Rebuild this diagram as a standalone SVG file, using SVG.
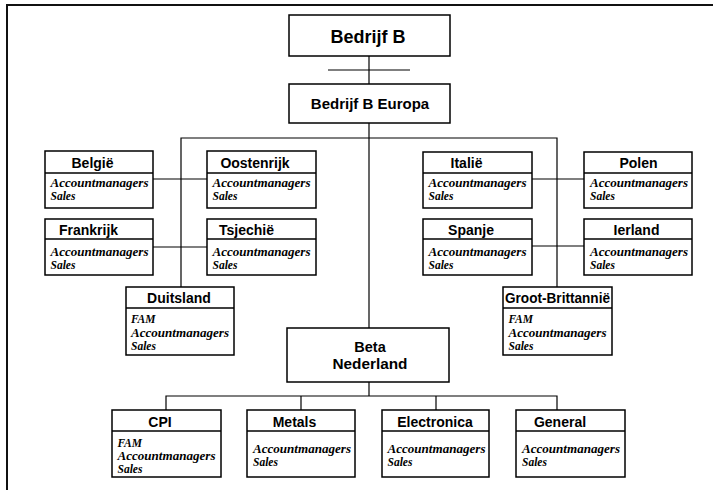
<svg xmlns="http://www.w3.org/2000/svg" width="713" height="490" viewBox="0 0 713 490">
  <style>
    .box { fill: #ffffff; stroke: #000000; stroke-width: 1.5; }
    .div { stroke: #000000; stroke-width: 1.5; }
    .wire { fill: none; stroke: #000000; stroke-width: 1.2; }
    .frame { fill: none; stroke: #111111; stroke-width: 2; }
    .head { font-family: "Liberation Sans", Arial, sans-serif; font-weight: bold; fill: #000000; text-anchor: middle; }
    .t { font-size: 14px; }
    .item { font-family: "Liberation Serif", "Times New Roman", serif; font-weight: bold; font-style: italic; font-size: 11.5px; fill: #000000; }
  </style>

  <!-- page frame (top and left edges) -->
  <path class="frame" d="M7,490 V5 H713"/>

  <!-- connectors -->
  <g id="connectors">
    <path class="wire" d="M369,56 V84"/>
    <path class="wire" d="M328,70 H410" stroke="#333333"/>
    <path class="wire" d="M369,123 V328"/>
    <path class="wire" d="M181,287 V138 H557 V287"/>
    <path class="wire" d="M153,179 H207"/>
    <path class="wire" d="M153,247 H207"/>
    <path class="wire" d="M532,179 H584"/>
    <path class="wire" d="M532,246 H584"/>
    <path class="wire" d="M369,382 V396"/>
    <path class="wire" d="M166,410 V396 H557 V410"/>
    <path class="wire" d="M301,396 V410"/>
    <path class="wire" d="M436,396 V410"/>
  </g>

  <!-- top level -->
  <g id="bedrijf-b">
    <rect class="box" x="289" y="15" width="161" height="41"/>
    <text class="head" x="368" y="43" font-size="18">Bedrijf B</text>
  </g>
  <g id="bedrijf-b-europa">
    <rect class="box" x="289" y="84" width="161" height="39"/>
    <text class="head" x="370" y="109" font-size="15">Bedrijf B Europa</text>
  </g>

  <!-- left countries -->
  <g id="belgie">
    <rect class="box" x="45" y="151" width="108" height="57"/>
    <line class="div" x1="45" y1="173" x2="153" y2="173"/>
    <text class="head t" x="92.5" y="168">België</text>
    <text class="item" x="50.5" y="187" textLength="98" lengthAdjust="spacingAndGlyphs">Accountmanagers</text>
    <text class="item" x="50.5" y="200">Sales</text>
  </g>
  <g id="oostenrijk">
    <rect class="box" x="207" y="151" width="109" height="57"/>
    <line class="div" x1="207" y1="173" x2="316" y2="173"/>
    <text class="head t" x="255" y="168">Oostenrijk</text>
    <text class="item" x="212.5" y="187" textLength="98" lengthAdjust="spacingAndGlyphs">Accountmanagers</text>
    <text class="item" x="212.5" y="200">Sales</text>
  </g>
  <g id="frankrijk">
    <rect class="box" x="45" y="219" width="108" height="56"/>
    <line class="div" x1="45" y1="239" x2="153" y2="239"/>
    <text class="head t" x="88.5" y="235">Frankrijk</text>
    <text class="item" x="50.5" y="256" textLength="98" lengthAdjust="spacingAndGlyphs">Accountmanagers</text>
    <text class="item" x="50.5" y="269">Sales</text>
  </g>
  <g id="tsjechie">
    <rect class="box" x="207" y="219" width="109" height="56"/>
    <line class="div" x1="207" y1="239" x2="316" y2="239"/>
    <text class="head t" x="246.5" y="235">Tsjechië</text>
    <text class="item" x="212.5" y="256" textLength="98" lengthAdjust="spacingAndGlyphs">Accountmanagers</text>
    <text class="item" x="212.5" y="269">Sales</text>
  </g>
  <g id="duitsland">
    <rect class="box" x="126" y="287" width="108" height="68"/>
    <line class="div" x1="126" y1="308" x2="234" y2="308"/>
    <text class="head t" x="179" y="303">Duitsland</text>
    <text class="item" x="131" y="323">FAM</text>
    <text class="item" x="131" y="336.5" textLength="98" lengthAdjust="spacingAndGlyphs">Accountmanagers</text>
    <text class="item" x="131" y="350">Sales</text>
  </g>

  <!-- right countries -->
  <g id="italie">
    <rect class="box" x="423" y="152" width="109" height="56"/>
    <line class="div" x1="423" y1="173" x2="532" y2="173"/>
    <text class="head t" x="466.5" y="168">Italië</text>
    <text class="item" x="428.5" y="187" textLength="98" lengthAdjust="spacingAndGlyphs">Accountmanagers</text>
    <text class="item" x="428.5" y="200">Sales</text>
  </g>
  <g id="polen">
    <rect class="box" x="584" y="152" width="108" height="56"/>
    <line class="div" x1="584" y1="173" x2="692" y2="173"/>
    <text class="head t" x="638.5" y="168">Polen</text>
    <text class="item" x="590" y="187" textLength="98" lengthAdjust="spacingAndGlyphs">Accountmanagers</text>
    <text class="item" x="590" y="200">Sales</text>
  </g>
  <g id="spanje">
    <rect class="box" x="423" y="219" width="109" height="56"/>
    <line class="div" x1="423" y1="239" x2="532" y2="239"/>
    <text class="head t" x="471" y="235">Spanje</text>
    <text class="item" x="428.5" y="256" textLength="98" lengthAdjust="spacingAndGlyphs">Accountmanagers</text>
    <text class="item" x="428.5" y="269">Sales</text>
  </g>
  <g id="ierland">
    <rect class="box" x="584" y="219" width="108" height="56"/>
    <line class="div" x1="584" y1="239" x2="692" y2="239"/>
    <text class="head t" x="636.5" y="235">Ierland</text>
    <text class="item" x="590" y="256" textLength="98" lengthAdjust="spacingAndGlyphs">Accountmanagers</text>
    <text class="item" x="590" y="269">Sales</text>
  </g>
  <g id="groot-brittannie">
    <rect class="box" x="503" y="287" width="109" height="68"/>
    <line class="div" x1="503" y1="308" x2="612" y2="308"/>
    <text class="head t" x="557.5" y="303" textLength="105" lengthAdjust="spacingAndGlyphs">Groot-Brittannië</text>
    <text class="item" x="508.5" y="323">FAM</text>
    <text class="item" x="508.5" y="336.5" textLength="98" lengthAdjust="spacingAndGlyphs">Accountmanagers</text>
    <text class="item" x="508.5" y="350">Sales</text>
  </g>

  <!-- Netherlands -->
  <g id="beta-nederland">
    <rect class="box" x="287" y="328" width="162" height="54"/>
    <text class="head" x="370" y="352" font-size="14.5">Beta</text>
    <text class="head" x="370" y="369" font-size="14.5" textLength="75" lengthAdjust="spacingAndGlyphs">Nederland</text>
  </g>
  <g id="cpi">
    <rect class="box" x="112" y="410" width="109" height="67"/>
    <line class="div" x1="112" y1="431" x2="221" y2="431"/>
    <text class="head t" x="160" y="427">CPI</text>
    <text class="item" x="117.5" y="447">FAM</text>
    <text class="item" x="117.5" y="460" textLength="98" lengthAdjust="spacingAndGlyphs">Accountmanagers</text>
    <text class="item" x="117.5" y="473">Sales</text>
  </g>
  <g id="metals">
    <rect class="box" x="247" y="410" width="108" height="67"/>
    <line class="div" x1="247" y1="431" x2="355" y2="431"/>
    <text class="head t" x="294.5" y="427">Metals</text>
    <text class="item" x="253" y="453" textLength="98" lengthAdjust="spacingAndGlyphs">Accountmanagers</text>
    <text class="item" x="253" y="466">Sales</text>
  </g>
  <g id="electronica">
    <rect class="box" x="382" y="410" width="107" height="67"/>
    <line class="div" x1="382" y1="431" x2="489" y2="431"/>
    <text class="head t" x="435" y="427">Electronica</text>
    <text class="item" x="387.5" y="453" textLength="98" lengthAdjust="spacingAndGlyphs">Accountmanagers</text>
    <text class="item" x="387.5" y="466">Sales</text>
  </g>
  <g id="general">
    <rect class="box" x="516" y="410" width="109" height="67"/>
    <line class="div" x1="516" y1="431" x2="625" y2="431"/>
    <text class="head t" x="560" y="427">General</text>
    <text class="item" x="522" y="453" textLength="98" lengthAdjust="spacingAndGlyphs">Accountmanagers</text>
    <text class="item" x="522" y="466">Sales</text>
  </g>
</svg>
